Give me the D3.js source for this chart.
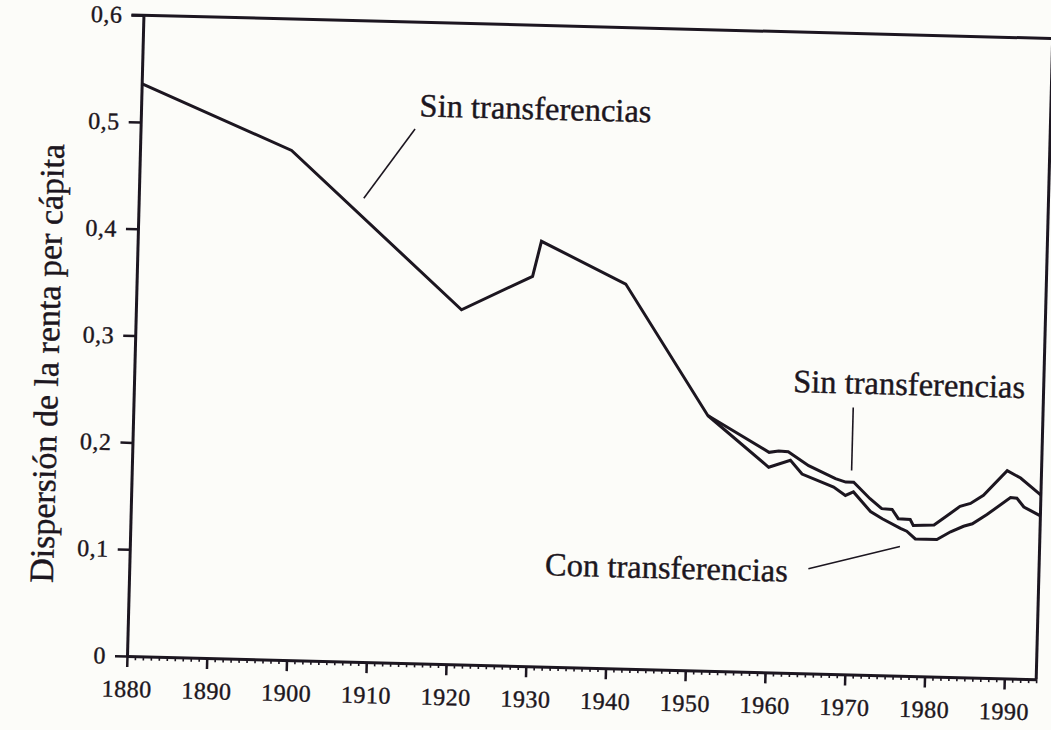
<!DOCTYPE html>
<html>
<head>
<meta charset="utf-8">
<script src="https://cdn.jsdelivr.net/npm/d3@7"></script>
<style>
	body { margin: 0; background: #fcfcf9; }
	svg { display: block; }
	text { font-family: 'Liberation Serif', serif; fill: #1c1620; stroke: #1c1620; stroke-width: 0.4px; }
</style>
</head>
<body>
<div id="vis"></div>
<script>
// shared part of the series, 1880 to the split
var yearsCommon = [1880, 1899, 1920.8, 1929.6, 1930.6, 1941.3, 1952.0];
var valuesCommon = [0.536, 0.477, 0.332, 0.365, 0.398, 0.360, 0.239];

// sin transferencias, after the split
var yearsSin = [1959.8, 1961.0, 1962.2, 1964.8, 1968.2, 1969.5, 1970.5, 1972.6, 1974.1, 1975.4, 1976.2,
	1977.7, 1978.1, 1980.7, 1982.3, 1983.9, 1985.2, 1986.8, 1989.7, 1991.4, 1994];
var valuesSin = [0.206, 0.2075, 0.207, 0.1945, 0.183, 0.180, 0.180, 0.165, 0.156, 0.1555, 0.147,
	0.1465, 0.141, 0.142, 0.151, 0.160, 0.163, 0.171, 0.1945, 0.188, 0.1725];

// con transferencias, after the split
var yearsCon = [1959.8, 1962.5, 1964.0, 1968.0, 1969.5, 1970.5, 1972.7, 1974.2, 1976.5, 1977.3, 1978.4,
	1981.1, 1982.8, 1984.4, 1985.5, 1987.3, 1990.2, 1991.0, 1991.9, 1992.7, 1994];
var valuesCon = [0.192, 0.199, 0.1865, 0.175, 0.1675, 0.171, 0.153, 0.1465, 0.138, 0.1355, 0.1285,
	0.1285, 0.136, 0.1415, 0.144, 0.153, 0.1695, 0.169, 0.161, 0.158, 0.153];

var xTicks = [1880, 1890, 1900, 1910, 1920, 1930, 1940, 1950, 1960, 1970, 1980, 1990];
var yTicks = [0, 0.1, 0.2, 0.3, 0.4, 0.5, 0.6];
var yTickLabels = ['0', '0,1', '0,2', '0,3', '0,4', '0,5', '0,6'];

var labelTexts = ['Sin transferencias', 'Sin transferencias', 'Con transferencias'];
var labelYears = [1914.9, 1962.6, 1932.1];
var labelValues = [0.512, 0.263, 0.0855];

// leader lines: [year, value] start and end
var leaderFrom = [[1914.4, 0.500], [1970.2, 0.250], [1965.1, 0.098]];
var leaderTo = [[1908.2, 0.434], [1970.2, 0.191], [1976.5, 0.121]];

var yTitle = 'Dispersión de la renta per cápita';

var width = 1051,
	height = 730,
	ink = '#1c1620';

var margin = { left: 127, top: 15 };
var drawWidth = 909.5,
	drawHeight = 641;

var svg = d3.select('#vis')
	.append('svg')
	.attr('width', width)
	.attr('height', height);

// the printed page sits slightly tilted in the scan
var g = svg.append('g')
	.attr('transform', 'rotate(1.47,' + margin.left + ',' + (margin.top + drawHeight) + ') translate(' + margin.left + ',' + margin.top + ')');

var xScale = d3.scaleLinear().domain([1880, 1994]).range([0, drawWidth]);
var yScale = d3.scaleLinear().domain([0, 0.6]).range([drawHeight, 0]);

// frame top and right
g.append('line')
	.attr('x1', -12).attr('x2', xScale(1994))
	.attr('y1', yScale(0.6)).attr('y2', yScale(0.6))
	.attr('stroke', ink).attr('stroke-width', 3);
g.append('line')
	.attr('x1', xScale(1994)).attr('x2', xScale(1994))
	.attr('y1', yScale(0.6)).attr('y2', yScale(0))
	.attr('stroke', ink).attr('stroke-width', 3);

// minor yearly ticks
var minorAxis = g.append('g')
	.attr('transform', 'translate(0,' + drawHeight + ')')
	.call(d3.axisBottom(xScale).tickValues(d3.range(1881, 1995)).tickSize(4).tickSizeOuter(0).tickFormat(''));
minorAxis.select('.domain').remove();
minorAxis.selectAll('line').attr('stroke', ink).attr('stroke-width', 1.6);

var xAxis = g.append('g')
	.attr('transform', 'translate(0,' + drawHeight + ')')
	.call(d3.axisBottom(xScale).tickValues(xTicks).tickSize(11).tickSizeOuter(0).tickPadding(13).tickFormat(d3.format('d')));

var yAxis = g.append('g')
	.call(d3.axisLeft(yScale).tickValues(yTicks).tickSize(12).tickSizeOuter(0).tickPadding(9)
		.tickFormat(function(d, i) { return yTickLabels[i]; }));

[xAxis, yAxis].forEach(function(ax) {
	ax.select('.domain').attr('stroke', ink).attr('stroke-width', 3);
	ax.selectAll('.tick line').attr('stroke', ink).attr('stroke-width', 2.5);
	ax.selectAll('.tick text')
		.attr('font-family', "'Liberation Serif', serif")
		.attr('font-size', 24)
		.attr('letter-spacing', 0.5)
		.attr('fill', ink);
});

// y title
g.append('text')
	.attr('transform', 'translate(-88,' + (drawHeight / 2 + 30) + ') rotate(-90)')
	.attr('text-anchor', 'middle')
	.attr('dy', '0.35em')
	.attr('font-size', 34)
	.text(yTitle);

var line = d3.line()
	.x(function(d) { return xScale(d[0]); })
	.y(function(d) { return yScale(d[1]); });

var zip = function(xs, ys) { return xs.map(function(x, i) { return [x, ys[i]]; }); };

var common = zip(yearsCommon, valuesCommon);
var split = common[common.length - 1];
var sinData = common.concat(zip(yearsSin, valuesSin));
var conData = [split].concat(zip(yearsCon, valuesCon));

g.selectAll('.series')
	.data([conData, sinData])
	.enter().append('path')
	.attr('class', 'series')
	.attr('d', line)
	.attr('fill', 'none')
	.attr('stroke', ink)
	.attr('stroke-width', 3)
	.attr('stroke-linejoin', 'miter');

g.selectAll('.leader')
	.data(leaderFrom)
	.enter().append('line')
	.attr('class', 'leader')
	.attr('x1', function(d) { return xScale(d[0]); })
	.attr('y1', function(d) { return yScale(d[1]); })
	.attr('x2', function(d, i) { return xScale(leaderTo[i][0]); })
	.attr('y2', function(d, i) { return yScale(leaderTo[i][1]); })
	.attr('stroke', ink)
	.attr('stroke-width', 1.6);

g.selectAll('.note')
	.data(labelTexts)
	.enter().append('text')
	.attr('class', 'note')
	.attr('x', function(d, i) { return xScale(labelYears[i]); })
	.attr('y', function(d, i) { return yScale(labelValues[i]); })
	.attr('font-size', 32.5)
	.text(function(d) { return d; });
</script>
</body>
</html>
